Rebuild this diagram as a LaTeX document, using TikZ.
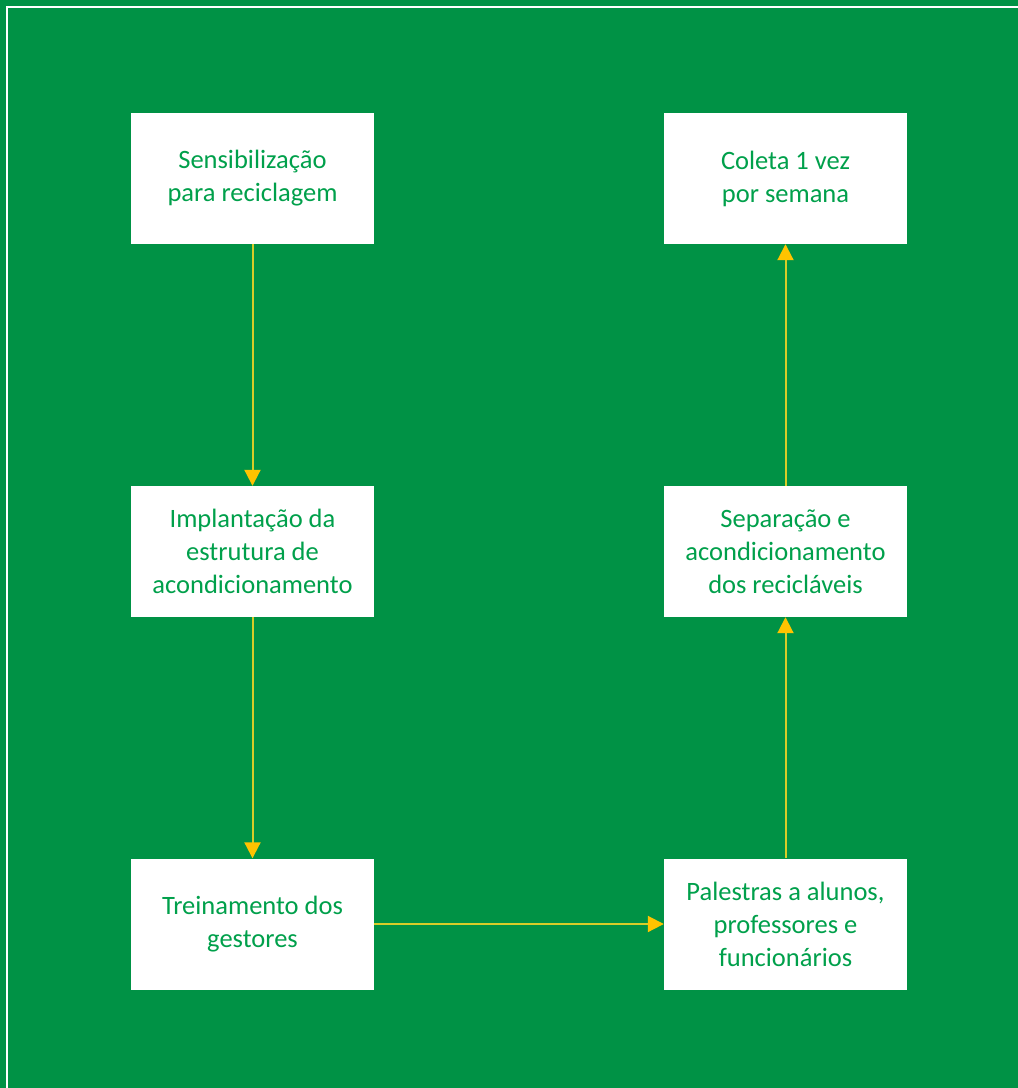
\documentclass[tikz,border=0pt]{standalone}
\usepackage{fontspec}
\setmainfont{Carlito}
\usetikzlibrary{arrows.meta}
\definecolor{bg}{RGB}{0,146,69}
\definecolor{txt}{RGB}{0,160,75}
\definecolor{ln}{RGB}{215,205,40}
\definecolor{hd}{RGB}{255,195,0}
\tikzset{
  box/.style={draw=none, fill=white, minimum width=243pt, minimum height=131pt, inner sep=0pt,
    align=center, text=txt, font=\fontsize{26.5}{33}\selectfont},
  flow/.style={line width=2pt, color=ln, -{Triangle[length=16pt,width=16pt,fill=hd,color=hd]}}
}
\begin{document}
\begin{tikzpicture}[x=1pt,y=-1pt]
\fill[bg] (0,0) rectangle (1018,1088);
\useasboundingbox (0,0) rectangle (1018,1088);
\draw[white, line width=2pt] (7,1088) -- (7,7) -- (1018,7);
\node[box] (a) at (252.5,178.5) {Sensibilização\\para reciclagem};
\node[box] (b) at (252.5,551.5) {Implantação da\\estrutura de\\acondicionamento};
\node[box] (c) at (252.5,924) {Treinamento dos\\gestores};
\node[box] (d) at (785.5,924) {Palestras a alunos,\\professores e\\funcionários};
\node[box] (e) at (785.5,551.5) {Separação e\\acondicionamento\\dos recicláveis};
\node[box] (f) at (785.5,178.5) {Coleta 1 vez\\por semana};
\draw[flow] (a) -- (b);
\draw[flow] (b) -- (c);
\draw[flow] (c) -- (d);
\draw[flow] (d) -- (e);
\draw[flow] (e) -- (f);
\end{tikzpicture}
\end{document}
